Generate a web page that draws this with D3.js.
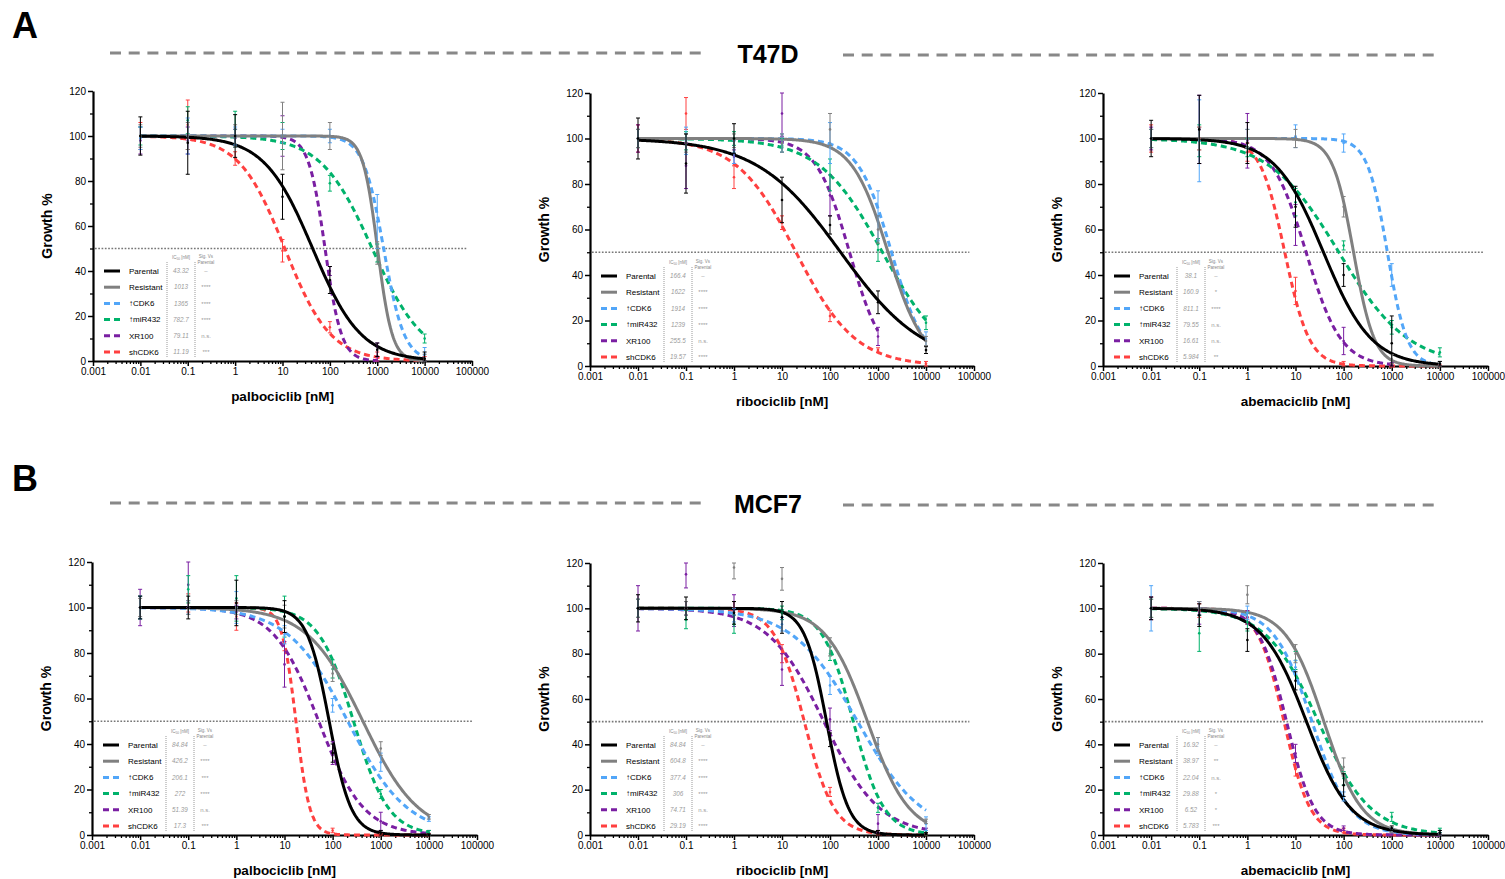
<!DOCTYPE html>
<html>
<head>
<meta charset="utf-8">
<script src="https://cdn.jsdelivr.net/npm/d3@7"></script>
<style>
  body { margin: 0; background: #fff; }
  text { font-family: Arial, "Liberation Sans", sans-serif; }
</style>
</head>
<body>
<div id="chart"></div>
<script>
// ---- data ----
const cellLines = ["T47D", "MCF7"];
const panelLetters = ["A", "B"];
const drugs = ["palbociclib", "ribociclib", "abemaciclib"];
const seriesNames = ["Parental", "Resistant", "\u2191CDK6", "\u2191miR432", "XR100", "shCDK6"];
const doses = [0.01, 0.1, 1, 10, 100, 1000, 10000];
const yTicks = [0, 20, 40, 60, 80, 100, 120];
const xTicks = [0.001, 0.01, 0.1, 1, 10, 100, 1000, 10000, 100000];

// panels: T47D palbo, ribo, abema, MCF7 palbo, ribo, abema
const ic50Text = [
  ["43.32", "1013", "1365", "782.7", "79.11", "11.19"],
  ["166.4", "1622", "1914", "1239", "255.5", "19.57"],
  ["38.1", "160.9", "811.1", "79.55", "16.61", "5.984"],
  ["84.84", "426.2", "206.1", "272", "51.39", "17.3"],
  ["84.84", "604.8", "377.4", "306", "74.71", "29.19"],
  ["16.92", "38.97", "22.04", "29.88", "6.52", "5.783"]
];
const sigText = [
  ["\u2013", "****", "****", "****", "n.s.", "***"],
  ["\u2013", "****", "****", "****", "n.s.", "****"],
  ["\u2013", "*", "****", "n.s.", "n.s.", "**"],
  ["\u2013", "****", "***", "****", "n.s.", "***"],
  ["\u2013", "****", "****", "****", "n.s.", "****"],
  ["\u2013", "**", "n.s.", "*", "*", "***"]
];
// Hill slopes of the fitted curves (top 100, bottom 0, IC50 from the table)
const hillSlopes = [
  [0.85, 2.8, 2.0, 0.8, 2.5, 0.9],
  [0.5, 1.15, 1.25, 0.66, 1.25, 0.7],
  [0.87, 2.0, 2.1, 0.6, 1.2, 1.7],
  [1.9, 0.75, 0.7, 1.2, 0.93, 3.0],
  [1.9, 1.0, 0.64, 1.35, 0.75, 1.4],
  [0.95, 1.1, 1.1, 0.8, 1.5, 1.6]
];
// highest dose of each fitted curve
const curveEnd = [
  [10000, 10000, 10000, 10000, 1000, 10000],
  [10000, 10000, 10000, 10000, 1000, 10000],
  [10000, 10000, 10000, 10000, 1000, 10000],
  [10000, 10000, 10000, 10000, 10000, 10000],
  [10000, 10000, 10000, 10000, 10000, 10000],
  [10000, 10000, 10000, 10000, 10000, 10000]
];
// mean growth % at each dose
const means = [
  [[100, 97, 100, 73, 36, 5, 1], [100, 100, 100, 100, 100, 48, 1], [99, 100, 100, 100, 100, 62, 3],
   [100, 107, 103, 100, 79, 48, 10], [98, 98, 99, 100, 40, 2, null], [100, 105, 90, 49, 15, 2, 1]],
  [[100, 89, 100, 73, 62, 28, 7], [100, 98, 99, 98, 104, 60, 11], [100, 99, 94, 98, 98, 66, 12],
   [100, 99, 100, 97, 84, 51, 19], [100, 88, 92, 111, 75, 13, null], [100, 111, 83, 63, 22, 7, 1]],
  [[100, 104, 98, 70, 40, 10, 1], [100, 100, 100, 100, 70, 3, 1], [100, 99, 100, 101, 98, 40, 1],
   [100, 99, 96, 72, 53, 17, 6], [100, 104, 99, 62, 11, 0.5, null], [100, 100, 94, 33, 1, 0, 0]],
  [[100, 100, 102, 96, 36, 1, 0], [100, 100, 100, 96, 71, 38, 8], [100, 100, 100, 88, 57, 32, 7],
   [100, 108, 104, 96, 73, 18, 1], [100, 110, 98, 75, 36, 6, 1], [100, 102, 96, 85, 2, 0, 0]],
  [[100, 100, 98, 96, 42, 1, 0.5], [100, 100, 118, 113, 83, 40, 6], [100, 100, 97, 93, 66, 39, 5],
   [100, 95, 93, 98, 80, 12, 1], [100, 115, 99, 73, 51, 5, 2], [100, 100, 100, 80, 19, 1, 0]],
  [[100, 97, 86, 68, 22, 3, 1], [100, 100, 106, 80, 30, 2, 1], [100, 100, 98, 74, 17, 2, 1],
   [100, 89, 94, 77, 25, 8, 2], [100, 98, 96, 36, 3, 0.5, 0.5], [100, 99, 96, 29, 2, 0.5, 0.5]]
];
// standard deviations
const sds = [
  [[8.5, 14, 9.5, 10, 6, 3, 3], [5, 6, 5, 15, 6, 5, 2], [5, 8, 4, 3, 3, 12, 3],
   [4, 6, 8, 6, 3.5, 4, 2], [6, 6, 4, 9, 2, 6, null], [6, 11, 3, 5, 2.5, 2, 1]],
  [[9, 13, 6.5, 10, 4, 5, 1.5], [4, 4, 3, 4, 7, 6, 2], [4, 6, 5, 4, 9, 11, 3],
   [4, 4, 3, 3, 7, 5, 3], [6, 10, 3, 10, 9, 4, null], [6, 7, 5, 3, 2.5, 1, 1]],
  [[8, 15, 9, 9, 5, 12, 1], [4, 5, 4, 4, 4.5, 2, 1], [4, 18, 4, 5, 4, 5, 1],
   [4, 7, 4, 6, 2, 3, 2], [5, 15, 12, 9, 6, 1, null], [6, 5, 4, 6, 1, 1, 0.5]],
  [[5, 5, 10, 7, 4, 1, 0.5], [4, 3, 3, 5, 3.5, 3, 1], [5, 3, 7, 4, 3, 4, 1],
   [5, 6, 10, 9, 4, 2, 1], [8, 10, 3, 10, 5, 4, 1], [5, 4, 6, 4, 1, 0.5, 0.5]],
  [[6, 5, 5, 7, 3, 1, 0.5], [4, 3, 5, 5, 4, 3, 1], [4, 3, 3, 3, 4, 4, 3],
   [4, 4, 4, 3, 3, 2, 1], [10, 6, 7, 7, 5, 4, 1], [4, 3, 3, 4, 2, 1, 0.5]],
  [[5, 5, 5, 4, 5, 1, 1], [4, 3, 4, 4, 4, 1, 1], [10, 3, 3, 3, 2, 1, 1],
   [4, 8, 4, 4, 3, 2, 1], [5, 5, 3, 4, 1, 0.5, 0.5], [5, 3, 3, 3, 1, 0.5, 0.5]]
];

// ---- styling / layout ----
const colors = ["#000000", "#808080", "#52a6f8", "#00b26b", "#7a1fa2", "#ff4040"];
const dashed = [false, false, true, true, true, true];
const boxes = [
  { left: 93, right: 472, top: 91, bottom: 361 },
  { left: 590, right: 974, top: 93, bottom: 366 },
  { left: 1103, right: 1488, top: 93, bottom: 366 },
  { left: 92, right: 477, top: 562, bottom: 835 },
  { left: 590, right: 974, top: 563, bottom: 835 },
  { left: 1103, right: 1488, top: 563, bottom: 835 }
];

const svg = d3.select("#chart").append("svg")
  .attr("width", 1505)
  .attr("height", 879)
  .style("background", "#fff");

// section headers (letter, cell line, grey dashed rules)
const headerY = [53, 503];
cellLines.forEach((name, k) => {
  svg.append("text")
    .attr("x", 12).attr("y", headerY[k] - 15 + (k ? 3 : 0))
    .attr("font-size", 36).attr("font-weight", "bold")
    .text(panelLetters[k]);
  svg.append("text")
    .attr("x", 768).attr("y", headerY[k] + 10)
    .attr("text-anchor", "middle")
    .attr("font-size", 25).attr("font-weight", "bold")
    .text(name);
  svg.append("line")
    .attr("x1", 110).attr("x2", 702).attr("y1", headerY[k]).attr("y2", headerY[k])
    .attr("stroke", "#888").attr("stroke-width", 3).attr("stroke-dasharray", "11,7.7");
  svg.append("line")
    .attr("x1", 843).attr("x2", 1436).attr("y1", headerY[k] + 2).attr("y2", headerY[k] + 2)
    .attr("stroke", "#888").attr("stroke-width", 3).attr("stroke-dasharray", "11,7.7");
});

function fitCurve(x, ic50, h) {
  return 100 / (1 + Math.pow(x / ic50, h));
}

function drawPanel(p) {
  const b = boxes[p];
  const g = svg.append("g");
  const x = d3.scaleLog().domain([0.001, 100000]).range([b.left, b.right]);
  const y = d3.scaleLinear().domain([0, 120]).range([b.bottom, b.top]);

  // 50% reference line
  g.append("line")
    .attr("x1", x(0.0011)).attr("x2", x(80000))
    .attr("y1", y(50)).attr("y2", y(50))
    .attr("stroke", "#777").attr("stroke-width", 1.6)
    .attr("stroke-dasharray", "1.7,1.6");

  // minor ticks
  const minorX = [];
  for (let e = -3; e < 5; e++) for (let m = 2; m < 10; m++) minorX.push(m * Math.pow(10, e));
  const minorY = [10, 30, 50, 70, 90, 110];

  g.append("g")
    .attr("transform", `translate(0,${b.bottom})`)
    .call(d3.axisBottom(x).tickValues(minorX).tickSize(3).tickFormat(""))
    .call(a => a.select(".domain").remove())
    .call(a => a.selectAll("line").attr("stroke-width", 1.3));
  g.append("g")
    .attr("transform", `translate(${b.left},0)`)
    .call(d3.axisLeft(y).tickValues(minorY).tickSize(3).tickFormat(""))
    .call(a => a.select(".domain").remove())
    .call(a => a.selectAll("line").attr("stroke-width", 1.3));

  // major axes
  g.append("g")
    .attr("transform", `translate(0,${b.bottom})`)
    .call(d3.axisBottom(x).tickValues(xTicks).tickSize(5).tickSizeOuter(0).tickPadding(2)
      .tickFormat(d => String(d)))
    .call(a => a.select(".domain").attr("stroke-width", 2.2))
    .call(a => a.selectAll("line").attr("stroke-width", 1.5))
    .call(a => a.selectAll("text").attr("font-size", 10).attr("font-family", "Arial, 'Liberation Sans', sans-serif"));
  g.append("g")
    .attr("transform", `translate(${b.left},0)`)
    .call(d3.axisLeft(y).tickValues(yTicks).tickSize(5).tickSizeOuter(0).tickPadding(2))
    .call(a => a.select(".domain").attr("stroke-width", 2.2))
    .call(a => a.selectAll("line").attr("stroke-width", 1.5))
    .call(a => a.selectAll("text").attr("font-size", 10).attr("font-family", "Arial, 'Liberation Sans', sans-serif"));

  // axis titles
  g.append("text")
    .attr("x", (b.left + b.right) / 2).attr("y", b.bottom + 40)
    .attr("text-anchor", "middle")
    .attr("font-size", 13.5).attr("font-weight", "bold")
    .text(`${drugs[p % 3]} [nM]`);
  g.append("text")
    .attr("transform", `translate(${b.left - 41},${(b.top + b.bottom) / 2}) rotate(-90)`)
    .attr("text-anchor", "middle")
    .attr("font-size", 14).attr("font-weight", "bold")
    .text("Growth %");

  // fitted curves, back to front
  const line = d3.line().x(d => x(d[0])).y(d => y(d[1]));
  const order = [5, 4, 3, 2, 1, 0];
  order.forEach(s => {
    const ic = parseFloat(ic50Text[p][s]);
    const lo = Math.log10(0.01), hi = Math.log10(curveEnd[p][s]);
    const pts = d3.range(0, 301).map(j => {
      const xv = Math.pow(10, lo + (hi - lo) * j / 300);
      return [xv, fitCurve(xv, ic, hillSlopes[p][s])];
    });
    g.append("path")
      .datum(pts)
      .attr("d", line)
      .attr("fill", "none")
      .attr("stroke", colors[s])
      .attr("stroke-width", 3)
      .attr("stroke-dasharray", dashed[s] ? "6,4" : null);
  });

  // mean +/- SD points
  order.forEach(s => {
    doses.forEach((d, k) => {
      const m = means[p][s][k];
      if (m === null) return;
      const sd = sds[p][s][k];
      const cx = x(d);
      const yTop = y(Math.min(120, m + sd));
      const yBot = y(Math.max(0, m - sd));
      const eb = g.append("g").attr("stroke", colors[s]).attr("stroke-width", 1);
      eb.append("line").attr("x1", cx).attr("x2", cx).attr("y1", yTop).attr("y2", yBot);
      eb.append("line").attr("x1", cx - 2).attr("x2", cx + 2).attr("y1", yTop).attr("y2", yTop);
      eb.append("line").attr("x1", cx - 2).attr("x2", cx + 2).attr("y1", yBot).attr("y2", yBot);
      g.append("circle").attr("cx", cx).attr("cy", y(m)).attr("r", 1.3).attr("fill", colors[s]);
    });
  });

  // legend with IC50 table
  const lg = g.append("g");
  const row0 = b.bottom - 90;
  const rowH = 16.2;
  lg.append("text")
    .attr("x", b.left + 88).attr("y", b.bottom - 102)
    .attr("text-anchor", "middle").attr("font-size", 4.5).attr("fill", "#888")
    .call(t => {
      t.append("tspan").text("IC");
      t.append("tspan").attr("font-size", 3.2).attr("dy", 1).text("50");
      t.append("tspan").attr("dy", -1).text(" [nM]");
    });
  lg.append("text")
    .attr("x", b.left + 113).attr("y", b.bottom - 103)
    .attr("text-anchor", "middle").attr("font-size", 4.5).attr("fill", "#888")
    .text("Sig. Vs");
  lg.append("text")
    .attr("x", b.left + 113).attr("y", b.bottom - 97.5)
    .attr("text-anchor", "middle").attr("font-size", 4.5).attr("fill", "#888")
    .text("Parental");
  [74, 102].forEach(off => {
    lg.append("line")
      .attr("x1", b.left + off).attr("x2", b.left + off)
      .attr("y1", b.bottom - 99).attr("y2", b.bottom - 4)
      .attr("stroke", "#999").attr("stroke-width", 1)
      .attr("stroke-dasharray", "1,1");
  });
  seriesNames.forEach((name, s) => {
    const ry = row0 + s * rowH;
    lg.append("line")
      .attr("x1", b.left + 11).attr("x2", b.left + 27)
      .attr("y1", ry).attr("y2", ry)
      .attr("stroke", colors[s]).attr("stroke-width", 3)
      .attr("stroke-dasharray", dashed[s] ? "6,4" : null);
    lg.append("text")
      .attr("x", b.left + 36).attr("y", ry).attr("dy", "0.35em")
      .attr("font-size", 8).text(name);
    lg.append("text")
      .attr("x", b.left + 88).attr("y", ry).attr("dy", "0.35em")
      .attr("text-anchor", "middle").attr("font-size", 6.3)
      .attr("font-style", "italic").attr("fill", "#9a9a9a")
      .text(ic50Text[p][s]);
    lg.append("text")
      .attr("x", b.left + 113).attr("y", ry).attr("dy", "0.35em")
      .attr("text-anchor", "middle").attr("font-size", 6)
      .attr("fill", "#9a9a9a")
      .text(sigText[p][s]);
  });
}

boxes.forEach((b, p) => drawPanel(p));
</script>
</body>
</html>
